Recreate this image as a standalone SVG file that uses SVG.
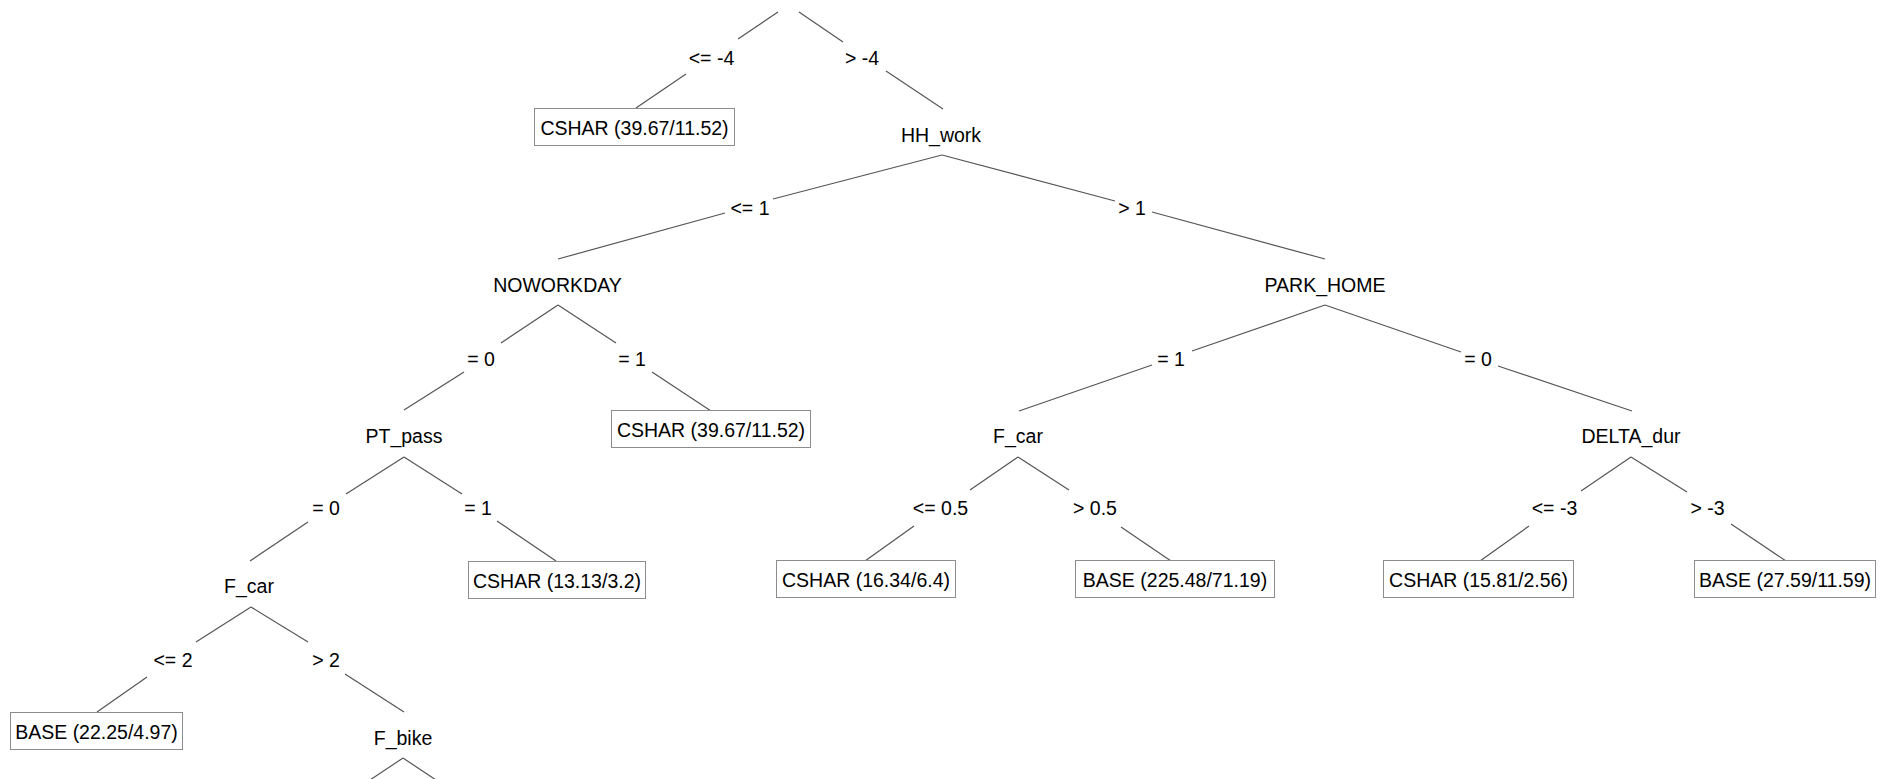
<svg xmlns="http://www.w3.org/2000/svg" width="1890" height="779" viewBox="0 0 1890 779">
<style>
text{font-family:"Liberation Sans",Arial,sans-serif;font-size:19.5px;fill:#000;text-anchor:middle}
.edges line{stroke:#555;stroke-width:1.2}
.leaf rect{fill:#fff;stroke:#8c8c8c;stroke-width:1}
</style>
<rect width="1890" height="779" fill="#fff"/>
<g id="connectors" class="edges">
<line x1="778" y1="12" x2="738" y2="39"/>
<line x1="799" y1="12" x2="843" y2="42"/>
<line x1="686" y1="74" x2="636" y2="108"/>
<line x1="886" y1="71" x2="943" y2="109"/>
<line x1="942" y1="155" x2="773" y2="199"/>
<line x1="942" y1="155" x2="1115" y2="201"/>
<line x1="725" y1="213" x2="558" y2="259"/>
<line x1="1152" y1="212" x2="1325" y2="259"/>
<line x1="558" y1="305" x2="501" y2="343"/>
<line x1="558" y1="305" x2="616" y2="343"/>
<line x1="464" y1="372" x2="404" y2="410"/>
<line x1="652" y1="372" x2="711" y2="411"/>
<line x1="404" y1="457" x2="346" y2="494"/>
<line x1="404" y1="457" x2="462" y2="494"/>
<line x1="308" y1="522" x2="250" y2="561"/>
<line x1="497" y1="521" x2="556" y2="561"/>
<line x1="251" y1="607" x2="196" y2="642"/>
<line x1="251" y1="607" x2="308" y2="642"/>
<line x1="147" y1="677" x2="97" y2="712"/>
<line x1="345" y1="674" x2="404" y2="712"/>
<line x1="403" y1="758" x2="370" y2="780"/>
<line x1="403" y1="758" x2="436" y2="780"/>
<line x1="1325" y1="305" x2="1192" y2="351"/>
<line x1="1325" y1="305" x2="1461" y2="352"/>
<line x1="1152" y1="365" x2="1019" y2="411"/>
<line x1="1498" y1="366" x2="1632" y2="411"/>
<line x1="1018" y1="457" x2="970" y2="490"/>
<line x1="1018" y1="457" x2="1069" y2="490"/>
<line x1="914" y1="526" x2="865" y2="561"/>
<line x1="1121" y1="527" x2="1171" y2="561"/>
<line x1="1631" y1="457" x2="1581" y2="491"/>
<line x1="1631" y1="457" x2="1687" y2="492"/>
<line x1="1529" y1="526" x2="1480" y2="561"/>
<line x1="1731" y1="524" x2="1786" y2="561"/>
</g>
<g id="edge-labels">
<text x="711.5" y="65">&lt;= -4</text>
<text x="862" y="65">&gt; -4</text>
<text x="750" y="215">&lt;= 1</text>
<text x="1132" y="215">&gt; 1</text>
<text x="481" y="366">= 0</text>
<text x="632" y="366">= 1</text>
<text x="1171" y="366">= 1</text>
<text x="1478" y="366">= 0</text>
<text x="326" y="515">= 0</text>
<text x="478" y="515">= 1</text>
<text x="940.5" y="515">&lt;= 0.5</text>
<text x="1095" y="515">&gt; 0.5</text>
<text x="1554.5" y="515">&lt;= -3</text>
<text x="1707.5" y="515">&gt; -3</text>
<text x="173" y="667">&lt;= 2</text>
<text x="326" y="667">&gt; 2</text>
</g>
<g id="HH_work"><text x="941" y="142">HH_work</text></g>
<g id="NOWORKDAY"><text x="557.5" y="292">NOWORKDAY</text></g>
<g id="PARK_HOME"><text x="1325" y="292">PARK_HOME</text></g>
<g id="PT_pass"><text x="404" y="443">PT_pass</text></g>
<g id="F_car_right"><text x="1018" y="443">F_car</text></g>
<g id="DELTA_dur"><text x="1631" y="443">DELTA_dur</text></g>
<g id="F_car_left"><text x="249" y="593">F_car</text></g>
<g id="F_bike"><text x="403" y="745">F_bike</text></g>
<g id="leaf1" class="leaf"><rect x="534.5" y="108.5" width="200" height="37"/><text x="634.5" y="135">CSHAR (39.67/11.52)</text></g>
<g id="leaf2" class="leaf"><rect x="611.5" y="410.5" width="199" height="37"/><text x="711" y="437">CSHAR (39.67/11.52)</text></g>
<g id="leaf3" class="leaf"><rect x="468.5" y="561.5" width="177" height="37"/><text x="557" y="588">CSHAR (13.13/3.2)</text></g>
<g id="leaf4" class="leaf"><rect x="10.5" y="712.5" width="172" height="37"/><text x="96.5" y="739">BASE (22.25/4.97)</text></g>
<g id="leaf5" class="leaf"><rect x="776.5" y="560.5" width="179" height="37"/><text x="866" y="587">CSHAR (16.34/6.4)</text></g>
<g id="leaf6" class="leaf"><rect x="1075.5" y="560.5" width="199" height="37"/><text x="1175" y="587">BASE (225.48/71.19)</text></g>
<g id="leaf7" class="leaf"><rect x="1383.5" y="560.5" width="190" height="37"/><text x="1478.5" y="587">CSHAR (15.81/2.56)</text></g>
<g id="leaf8" class="leaf"><rect x="1694.5" y="560.5" width="181" height="37"/><text x="1785" y="587">BASE (27.59/11.59)</text></g>
</svg>
